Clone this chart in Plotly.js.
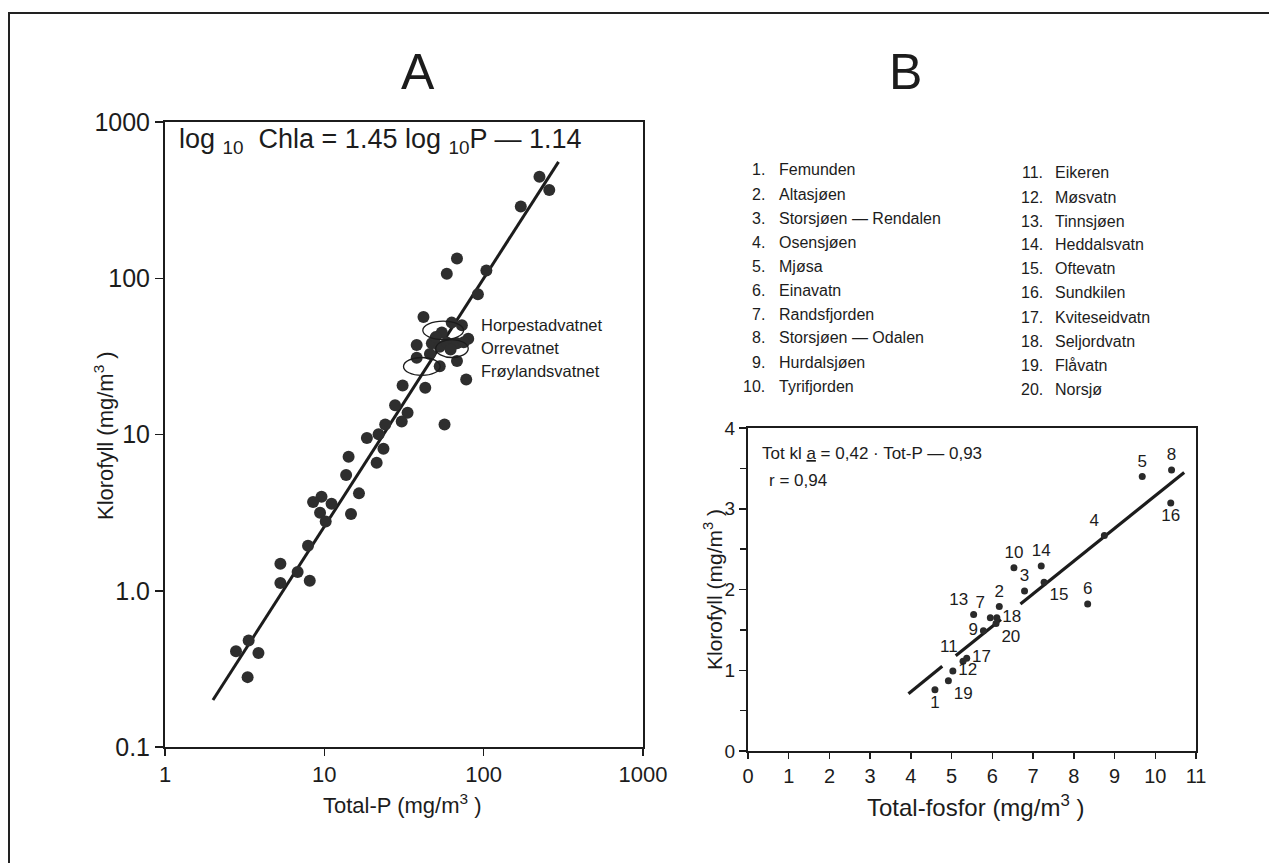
<!DOCTYPE html>
<html>
<head>
<meta charset="utf-8">
<script src="https://cdn.plot.ly/plotly-3.0.1.min.js"></script>
<style>html,body{margin:0;padding:0;background:#fff;}#chart{width:1269px;height:863px;}</style>
</head>
<body>
<div id="chart"></div>
<script>
// ---------- Panel A data (log-log) ----------
const lakesA_P = [224, 258, 171, 104, 68, 58.7, 92, 41.9, 63, 73, 54.6, 80, 38, 47.3, 53, 58.7, 68, 75, 50, 62,
  38, 53, 68, 77.7, 46, 31, 43, 27.8, 33.3, 30.6, 56.8, 24.1, 21.9, 18.5, 23.5, 21.3, 14.2, 13.7, 16.5, 14.7,
  9.6, 8.5, 11.1, 9.4, 10.2, 7.9, 5.3, 5.3, 6.8, 8.1, 3.35, 2.79, 3.86, 3.3];
const lakesA_C = [447, 367, 288, 112, 134, 107, 79, 56.4, 52, 50, 45, 41, 37.4, 38.4, 36.5, 38.8, 38.4, 39, 42, 35,
  31, 27.3, 29.5, 22.5, 32.8, 20.6, 19.9, 15.4, 13.8, 12.1, 11.6, 11.6, 10.05, 9.5, 8.1, 6.6, 7.2, 5.5, 4.2, 3.1,
  4.0, 3.7, 3.6, 3.16, 2.77, 1.94, 1.49, 1.12, 1.32, 1.16, 0.48, 0.41, 0.40, 0.28];
const lineA_P = [2.0, 295];
const lineA_C = [0.2, 556];
const namedLakesA = ["Horpestadvatnet", "Orrevatnet", "Frøylandsvatnet"];
const ellipseA_P = [[41.5, 74.8], [50, 80], [31.4, 53.3]];
const ellipseA_C = [[40.5, 53.2], [31.1, 40.5], [23.9, 31.1]];
const tickA_x = [1, 10, 100, 1000];
const tickA_xText = ["1", "10", "100", "1000"];
const tickA_y = [0.1, 1, 10, 100, 1000];
const tickA_yText = ["0.1", "1.0", "10", "100", "1000"];

// ---------- Panel B data (linear) ----------
const lakeIds = ["1","2","3","4","5","6","7","8","9","10","11","12","13","14","15","16","17","18","19","20"];
const lakeNames = ["Femunden", "Altasjøen", "Storsjøen — Rendalen", "Osensjøen", "Mjøsa", "Einavatn",
  "Randsfjorden", "Storsjøen — Odalen", "Hurdalsjøen", "Tyrifjorden", "Eikeren", "Møsvatn", "Tinnsjøen",
  "Heddalsvatn", "Oftevatn", "Sundkilen", "Kviteseidvatn", "Seljordvatn", "Flåvatn", "Norsjø"];
const lakesB_P = [4.59, 6.17, 6.79, 8.75, 9.68, 8.34, 5.95, 10.40, 5.78, 6.53, 5.28, 5.03, 5.54, 7.20, 7.27, 10.38, 5.37, 6.11, 4.92, 6.09];
const lakesB_C = [0.76, 1.79, 1.98, 2.67, 3.40, 1.82, 1.65, 3.48, 1.49, 2.27, 1.11, 0.99, 1.69, 2.29, 2.09, 3.07, 1.15, 1.65, 0.87, 1.58];
const lineB_P = [3.94, 4.77, null, 5.10, 6.21, null, 6.69, 10.71];
const lineB_C = [0.71, 1.05, null, 1.18, 1.63, null, 1.82, 3.45];

// label placement (style)
const labelPosB = ["bottom center","top center","top center","top left","top center","top center","top left",
  "top center","middle left","top center","top left","middle right","top left","top center","bottom right",
  "bottom center","middle right","middle right","bottom right","bottom right"];

const W = 1269, H = 863;
const px = v => v / W;
const py = v => 1 - v / H;
const FONT = "Liberation Sans, Arial, sans-serif";
const INK = "#1c1c1c";

const traces = [
  { x: lineA_P, y: lineA_C, mode: "lines", line: {color: INK, width: 3}, xaxis: "x", yaxis: "y", hoverinfo: "skip" },
  { x: lakesA_P, y: lakesA_C, mode: "markers", marker: {color: "#2e2e2e", size: 12}, xaxis: "x", yaxis: "y" },
  { x: lineB_P, y: lineB_C, mode: "lines", line: {color: INK, width: 3.2}, xaxis: "x2", yaxis: "y2", connectgaps: false, hoverinfo: "skip" },
  { x: lakesB_P, y: lakesB_C, mode: "markers+text", text: lakeIds, textposition: labelPosB,
    textfont: {family: FONT, size: 17, color: INK},
    marker: {color: "#2a2a2a", size: 7}, xaxis: "x2", yaxis: "y2" }
];

const axisCommon = {
  showline: true, linecolor: INK, linewidth: 2, mirror: true, showgrid: false, zeroline: false,
  ticks: "outside", tickcolor: INK, tickwidth: 1.5, fixedrange: true
};

const shapes = [];
ellipseA_P.forEach((p, i) => {
  shapes.push({ type: "circle", xref: "x", yref: "y", x0: p[0], x1: p[1], y0: ellipseA_C[i][0], y1: ellipseA_C[i][1],
    line: {color: INK, width: 1.3}, fillcolor: "rgba(0,0,0,0)" });
});
// outer frame of figure
shapes.push({ type: "rect", xref: "paper", yref: "paper", x0: px(9), x1: px(1290), y0: py(900), y1: py(13),
  line: {color: "#222", width: 2} });

const annotations = [];
const ann = (text, x, y, opts) => annotations.push(Object.assign({
  text, x: px(x), y: py(y), xref: "paper", yref: "paper", showarrow: false,
  font: {family: FONT, size: 16, color: INK}, xanchor: "center", yanchor: "middle"
}, opts || {}));

ann("A", 418, 72, {font: {family: FONT, size: 50, color: INK}});
ann("B", 905, 72, {font: {family: FONT, size: 50, color: INK}});
ann("log <sub>10</sub>  Chla = 1.45 log <sub>10</sub>P — 1.14", 177, 141, {xanchor: "left", font: {family: FONT, size: 27, color: INK}});
ann("Klorofyll (mg/m<sup>3</sup> )", 104, 435, {textangle: -90, font: {family: FONT, size: 22, color: INK}});
ann("Total-P (mg/m<sup>3</sup> )", 402, 804, {font: {family: FONT, size: 22, color: INK}});
ann("Total-fosfor (mg/m<sup>3</sup> )", 975, 806, {font: {family: FONT, size: 24, color: INK}});
ann("Klorofyll (mg/m<sup>3</sup> )", 713, 590, {textangle: -90, font: {family: FONT, size: 21, color: INK}});
ann("Tot kl <u>a</u> = 0,42 · Tot-P — 0,93", 760, 453, {xanchor: "left", font: {family: FONT, size: 17, color: INK}});
ann("r = 0,94", 767, 480, {xanchor: "left", font: {family: FONT, size: 17, color: INK}});

// named lakes in panel A
const namedY = [325, 348, 371];
namedLakesA.forEach((n, i) => ann(n, 479, namedY[i], {xanchor: "left", font: {family: FONT, size: 16.5, color: INK}}));

// lake list in panel B
lakeNames.forEach((n, i) => {
  const col = i < 10 ? 0 : 1;
  const row = i % 10;
  const y = (col === 0 ? 170 : 173) + 24 * row;
  const numRight = col === 0 ? 767 : 1045;
  const nameLeft = col === 0 ? 777 : 1053;
  ann(lakeIds[i] + ".", numRight, y, {xanchor: "right", font: {family: FONT, size: 16, color: INK}});
  ann(n, nameLeft, y, {xanchor: "left", font: {family: FONT, size: 16, color: INK}});
});

const layout = {
  width: W, height: H, margin: {l: 0, r: 0, t: 0, b: 0},
  paper_bgcolor: "#fff", plot_bgcolor: "#fff", showlegend: false,
  font: {family: FONT, color: INK},
  xaxis: Object.assign({}, axisCommon, {
    type: "log", range: [0, 3], domain: [px(165), px(643)], anchor: "y",
    tickvals: tickA_x, ticktext: tickA_xText, ticklen: 7,
    tickfont: {family: FONT, size: 22, color: INK}
  }),
  yaxis: Object.assign({}, axisCommon, {
    type: "log", range: [-1, 3], domain: [py(747), py(122)], anchor: "x",
    tickvals: tickA_y, ticktext: tickA_yText, ticklen: 8,
    tickfont: {family: FONT, size: 25, color: INK}
  }),
  xaxis2: Object.assign({}, axisCommon, {
    range: [0, 11], domain: [px(748), px(1196)], anchor: "y2", dtick: 1, tick0: 0, ticklen: 6,
    tickfont: {family: FONT, size: 20, color: INK}
  }),
  yaxis2: Object.assign({}, axisCommon, {
    range: [0, 4], domain: [py(751), py(428)], anchor: "x2", dtick: 1, tick0: 0, ticklen: 7,
    tickfont: {family: FONT, size: 19, color: INK},
    minor: {dtick: 0.5, ticks: "outside", ticklen: 6, tickcolor: INK, tickwidth: 1.5, showgrid: false}
  }),
  shapes, annotations
};

Plotly.newPlot("chart", traces, layout, {staticPlot: true, displayModeBar: false});
</script>
</body>
</html>
